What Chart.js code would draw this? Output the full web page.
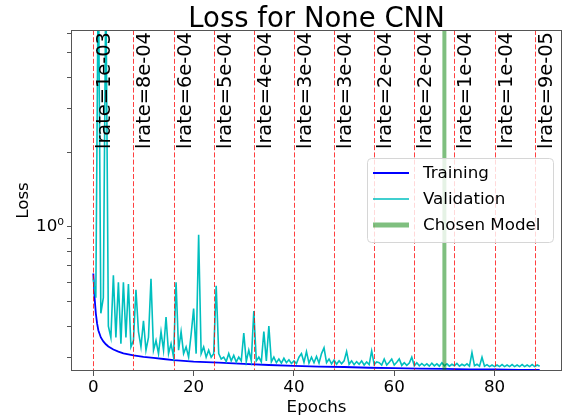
<!DOCTYPE html>
<html lang="en">
<head>
  <meta charset="UTF-8">
  <title>Loss for None CNN</title>
  <script src="https://cdn.jsdelivr.net/npm/chart.js"></script>
  <style>
    html, body { margin: 0; padding: 0; background: #fff; }
  </style>
</head>
<body>
  <canvas id="lossChart" width="563" height="419"></canvas>

  <script>
    // training loss, read at a few epochs
    const trainEpochs = [0, 0.25, 0.5, 0.75, 1, 1.5, 2, 2.5, 3, 4, 5, 6, 8, 10, 12, 14, 16, 18, 20,
      25, 30, 35, 40, 45, 50, 55, 60, 65, 70, 75, 80, 85, 89];
    const trainLoss = [0.65, 0.52, 0.45, 0.41, 0.385, 0.36, 0.347, 0.338, 0.331, 0.322, 0.316, 0.311, 0.305,
      0.301, 0.298, 0.295, 0.292, 0.29, 0.288, 0.285, 0.282, 0.279, 0.277, 0.275, 0.274, 0.272, 0.271,
      0.27, 0.269, 0.268, 0.268, 0.267, 0.267];

    // validation loss, one value every half epoch starting at 0
    const valStep = 0.5;
    const valLoss = [
      0.62, 0.52, 12, 0.45, 0.52, 10, 0.40, 0.36, 0.64, 0.36,
      0.60, 0.34, 0.60, 0.36, 0.59, 0.33, 0.35, 0.56, 0.38, 0.33,
      0.42, 0.32, 0.36, 0.62, 0.32, 0.35, 0.31, 0.38, 0.32, 0.435,
      0.31, 0.34, 0.30, 0.60, 0.32, 0.38, 0.31, 0.33, 0.30, 0.37,
      0.47, 0.31, 0.93, 0.31, 0.33, 0.30, 0.32, 0.30, 0.31, 0.58,
      0.31, 0.295, 0.30, 0.288, 0.31, 0.29, 0.305, 0.287, 0.30, 0.29,
      0.375, 0.288, 0.32, 0.29, 0.46, 0.29, 0.30, 0.287, 0.38, 0.29,
      0.40, 0.287, 0.30, 0.285, 0.295, 0.284, 0.297, 0.285, 0.293, 0.283,
      0.29, 0.283, 0.30, 0.31, 0.286, 0.316, 0.284, 0.30, 0.285, 0.302,
      0.284, 0.31, 0.327, 0.285, 0.295, 0.282, 0.292, 0.281, 0.29, 0.282,
      0.29, 0.316, 0.281, 0.29, 0.28, 0.288, 0.281, 0.29, 0.279, 0.287,
      0.28, 0.318, 0.28, 0.287, 0.285, 0.279, 0.295, 0.279, 0.286, 0.295,
      0.279, 0.286, 0.295, 0.278, 0.285, 0.278, 0.284, 0.30, 0.277, 0.285,
      0.277, 0.283, 0.277, 0.282, 0.276, 0.284, 0.277, 0.282, 0.276, 0.285,
      0.277, 0.282, 0.276, 0.281, 0.277, 0.283, 0.276, 0.281, 0.277, 0.282,
      0.276, 0.313, 0.277, 0.281, 0.276, 0.30, 0.276, 0.28, 0.275, 0.279,
      0.275, 0.279, 0.275, 0.28, 0.275, 0.279, 0.275, 0.28, 0.275, 0.279,
      0.275, 0.28, 0.275, 0.279, 0.275, 0.28, 0.275, 0.279, 0.276
    ];

    // learning rate schedule markers
    const lrEpochs = [0, 8, 16, 24, 32, 40, 48, 56, 64, 72, 80, 88];
    const lrLabels = ['lrate=1e-03', 'lrate=8e-04', 'lrate=6e-04', 'lrate=5e-04', 'lrate=4e-04', 'lrate=3e-04',
      'lrate=3e-04', 'lrate=2e-04', 'lrate=2e-04', 'lrate=1e-04', 'lrate=1e-04', 'lrate=9e-05'];
    const chosenEpoch = 70;

    const xTicks = [0, 20, 40, 60, 80];
    const yTicks = [0.3, 0.4, 0.5, 0.6, 0.7, 0.8, 0.9, 1, 2, 3, 4, 5, 6];

    const FONT = 'DejaVu Sans';
    const fs = 16.7;

    const trainPoints = trainEpochs.map((e, i) => ({ x: e, y: trainLoss[i] }));
    const valPoints = valLoss.map((v, i) => ({ x: i * valStep, y: v }));

    const legendItems = [
      { text: 'Training', color: 'rgb(0,0,255)', width: 2 },
      { text: 'Validation', color: '#00bfbf', width: 1.6 },
      { text: 'Chosen Model', color: 'rgba(0,128,0,0.5)', width: 5 }
    ];

    const extras = {
      id: 'extras',
      afterDatasetsDraw(chart) {
        const ctx = chart.ctx;
        const a = chart.chartArea;
        const xs = chart.scales.x;
        ctx.save();
        // lrate lines
        ctx.strokeStyle = 'rgba(255,0,0,0.75)';
        ctx.lineWidth = 1;
        ctx.setLineDash([5, 2.2]);
        lrEpochs.forEach(e => {
          const px = Math.round(xs.getPixelForValue(e)) + 0.5;
          ctx.beginPath();
          ctx.moveTo(px, a.top);
          ctx.lineTo(px, a.bottom);
          ctx.stroke();
        });
        ctx.setLineDash([]);
        // chosen model
        const gx = xs.getPixelForValue(chosenEpoch);
        ctx.strokeStyle = 'rgba(0,128,0,0.5)';
        ctx.lineWidth = 4;
        ctx.beginPath();
        ctx.moveTo(gx, a.top);
        ctx.lineTo(gx, a.bottom);
        ctx.stroke();
        // frame
        ctx.strokeStyle = '#555';
        ctx.lineWidth = 1;
        ctx.strokeRect(a.left + 0.5, a.top + 0.5, a.right - a.left - 1, a.bottom - a.top - 1);
        // rotated labels
        ctx.fillStyle = '#000';
        ctx.font = '19.4px "' + FONT + '"';
        ctx.textAlign = 'left';
        ctx.textBaseline = 'alphabetic';
        lrEpochs.forEach((e, i) => {
          const px = xs.getPixelForValue(e);
          ctx.save();
          ctx.translate(px + 17, 149);
          ctx.rotate(-Math.PI / 2);
          ctx.fillText(lrLabels[i], 0, 0);
          ctx.restore();
        });
        ctx.restore();
      },
      afterDraw(chart) {
        const ctx = chart.ctx;
        const a = chart.chartArea;
        ctx.save();
        // title
        ctx.fillStyle = '#000';
        ctx.font = '27.5px "' + FONT + '"';
        ctx.textAlign = 'center';
        ctx.textBaseline = 'alphabetic';
        ctx.fillText('Loss for None CNN', (a.left + a.right) / 2, 27);
        // legend
        const bx = 367, by = 158, bw = 186, bh = 84, r = 4;
        ctx.beginPath();
        ctx.roundRect(bx + 0.5, by + 0.5, bw, bh, r);
        ctx.fillStyle = 'rgba(255,255,255,0.8)';
        ctx.fill();
        ctx.strokeStyle = '#d6d6d6';
        ctx.lineWidth = 1;
        ctx.stroke();
        ctx.font = fs + 'px "' + FONT + '"';
        ctx.textAlign = 'left';
        ctx.textBaseline = 'middle';
        legendItems.forEach((it, i) => {
          const y = 173 + i * 26;
          ctx.strokeStyle = it.color;
          ctx.lineWidth = it.width;
          ctx.beginPath();
          ctx.moveTo(373, y);
          ctx.lineTo(409, y);
          ctx.stroke();
          ctx.fillStyle = '#000';
          ctx.fillText(it.text, 423, y + 1);
        });
        ctx.restore();
      }
    };

    new Chart(document.getElementById('lossChart'), {
      type: 'line',
      data: {
        datasets: [
          {
            label: 'Training',
            data: trainPoints,
            borderColor: 'rgb(0,0,255)',
            borderWidth: 1.8,
            pointRadius: 0,
            tension: 0,
            order: 2
          },
          {
            label: 'Validation',
            data: valPoints,
            borderColor: '#00bfbf',
            borderWidth: 1.6,
            pointRadius: 0,
            tension: 0,
            order: 1
          }
        ]
      },
      options: {
        responsive: false,
        animation: false,
        layout: { padding: { top: 30, left: 0, right: 1, bottom: 0 } },
        plugins: {
          legend: { display: false },
          title: { display: false },
          tooltip: { enabled: false }
        },
        scales: {
          x: {
            type: 'linear',
            min: -4.45,
            max: 93.45,
            afterBuildTicks: s => { s.ticks = xTicks.map(v => ({ value: v })); },
            afterFit: s => { s.height = 48; },
            grid: { drawOnChartArea: false, drawTicks: true, tickLength: 5, color: '#555' },
            border: { display: false },
            ticks: { color: '#000', padding: 2, font: { family: FONT, size: fs } },
            title: { display: true, text: 'Epochs', color: '#000', font: { family: FONT, size: fs }, padding: { top: 0, bottom: 1.5 } }
          },
          y: {
            type: 'logarithmic',
            min: 0.264,
            max: 6.18,
            afterBuildTicks: s => { s.ticks = yTicks.map(v => ({ value: v })); },
            afterFit: s => { s.width = 71; },
            grid: { drawOnChartArea: false, drawTicks: true, tickLength: 4, color: '#555' },
            border: { display: false },
            ticks: {
              color: '#000',
              padding: 3,
              autoSkip: false,
              font: { family: FONT, size: fs },
              callback: v => (v === 1 ? '10⁰' : '')
            },
            title: { display: true, text: 'Loss', color: '#000', font: { family: FONT, size: fs }, padding: { top: 13.5, bottom: 0 } }
          }
        }
      },
      plugins: [extras]
    });
  </script>
</body>
</html>
